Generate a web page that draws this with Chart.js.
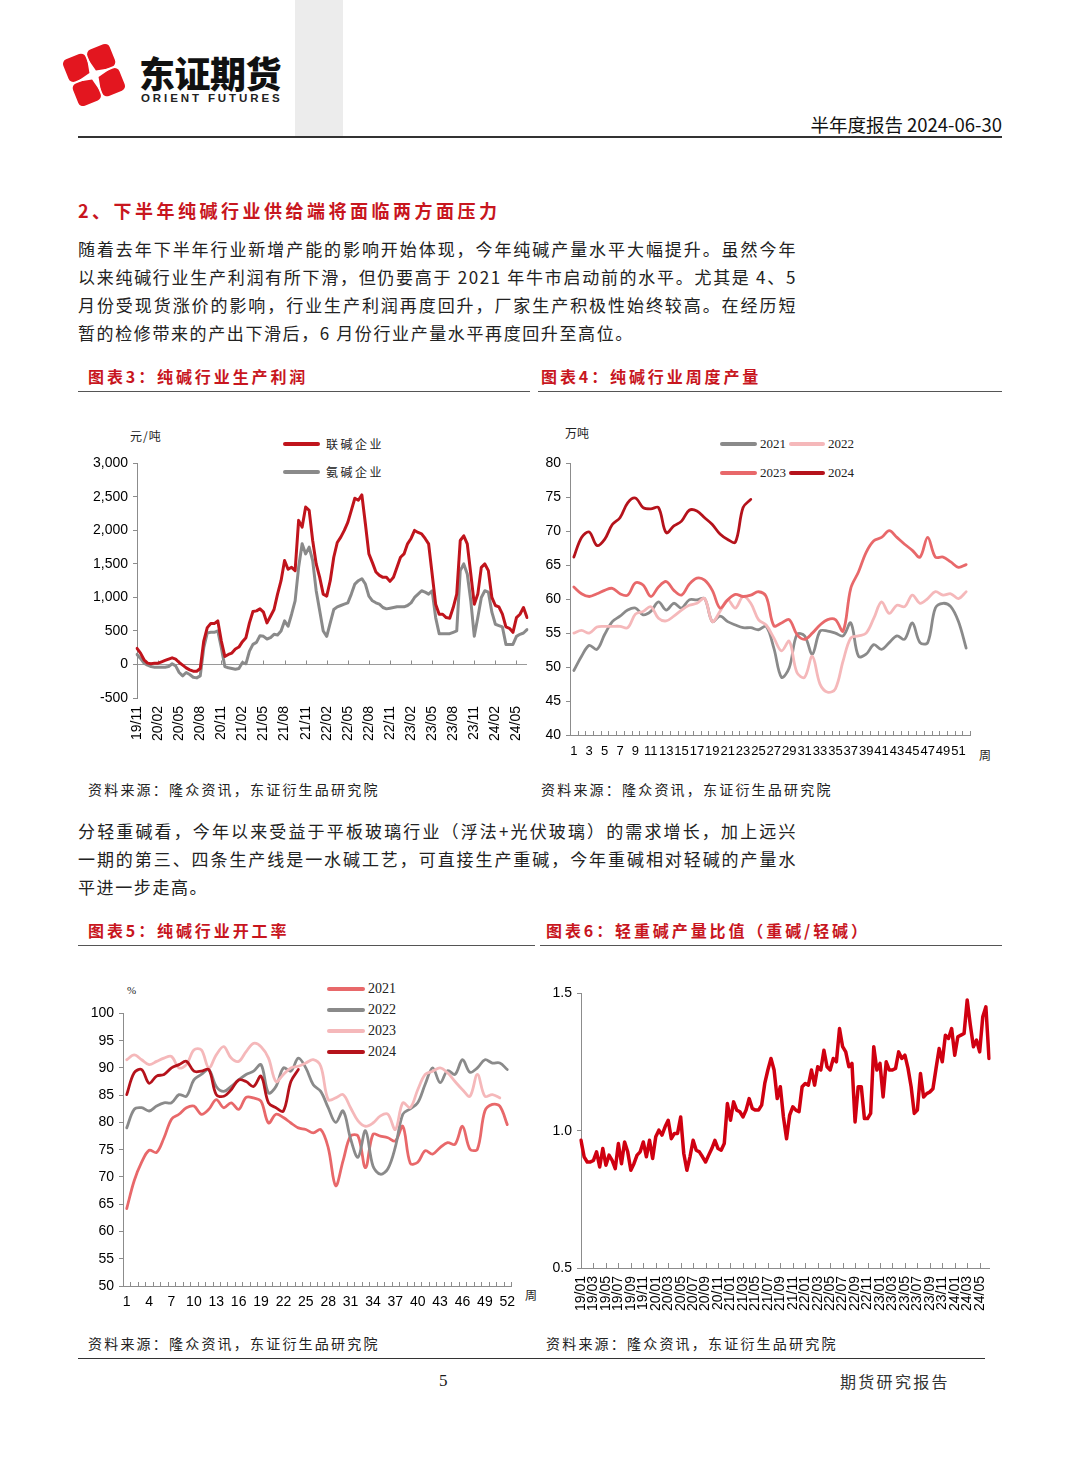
<!DOCTYPE html>
<html lang="zh">
<head>
<meta charset="UTF-8" />
<title>半年度报告 纯碱</title>
<script src="https://cdn.jsdelivr.net/npm/chart.js"></script>
<style>
  body { margin: 0; background: #fff; font-family: "Noto Sans CJK SC", sans-serif; color: #1a1a1a; }
  #page { position: relative; width: 1080px; height: 1466px; overflow: hidden; background: #fff; }
  .abs { position: absolute; white-space: nowrap; }
  .para { position: absolute; left: 78px; width: 719px; font-size: 17px; line-height: 28px; letter-spacing: 1.6px; white-space: nowrap; color: #222; }
  .full { text-align: justify; text-align-last: justify; }
  .rule { position: absolute; height: 1px; background: #555; }
  .ctitle { position: absolute; font-size: 16px; font-weight: 700; color: #c8161e; letter-spacing: 2.9px; line-height: 20px; white-space: nowrap; }
  .src { position: absolute; font-size: 14px; letter-spacing: 2.2px; line-height: 20px; color: #222; white-space: nowrap; }
  .box { position: absolute; }
  .lg { position: absolute; height: 4px; border-radius: 2px; }
  .lgt { position: absolute; line-height: 16px; white-space: nowrap; color: #222; }
  .serif { font-family: "Liberation Serif", "DejaVu Serif", serif; }
</style>
</head>
<body>
<div id="page">
  <!-- header -->
  <svg class="abs" width="72" height="78" style="left:58px;top:36px">
    <g transform="translate(36,39) rotate(-22)">
      <rect x="-25" y="-25" width="24" height="24" rx="5" fill="#e3161f"/>
      <rect x="1" y="-25" width="24" height="24" rx="5" fill="#e3161f"/>
      <rect x="-25" y="1" width="24" height="24" rx="5" fill="#e3161f"/>
      <rect x="1" y="1" width="24" height="24" rx="5" fill="#e3161f"/>
      <path d="M0,-19 L3.5,-3.5 L19,0 L3.5,3.5 L0,19 L-3.5,3.5 L-19,0 L-3.5,-3.5 Z" fill="#fff"/>
    </g>
  </svg>
  <div class="abs" style="left:139px;top:50px;font-size:36px;font-weight:900;line-height:44px;color:#111;letter-spacing:-0.5px">东证期货</div>
  <div class="abs" style="left:141px;top:91px;font-family:'Liberation Sans',Arial,sans-serif;font-size:11.5px;font-weight:700;letter-spacing:2.9px;line-height:14px;color:#222">ORIENT FUTURES</div>
  <div class="abs" style="left:295px;top:0;width:48px;height:137px;background:#ececec"></div>
  <div class="abs" style="right:78px;top:112px;font-size:18.5px;line-height:24px;color:#111">半年度报告 2024-06-30</div>
  <div class="abs" style="left:78px;top:136px;width:924px;height:2px;background:#333"></div>

  <!-- section 2 -->
  <div class="abs" style="left:78px;top:198px;font-size:18px;font-weight:700;color:#c8161e;letter-spacing:3.5px;line-height:24px">2、下半年纯碱行业供给端将面临两方面压力</div>
  <div class="para full" style="top:235px">随着去年下半年行业新增产能的影响开始体现，今年纯碱产量水平大幅提升。虽然今年</div>
  <div class="para full" style="top:263px">以来纯碱行业生产利润有所下滑，但仍要高于 2021 年牛市启动前的水平。尤其是 4、5</div>
  <div class="para full" style="top:291px">月份受现货涨价的影响，行业生产利润再度回升，厂家生产积极性始终较高。在经历短</div>
  <div class="para" style="top:319px">暂的检修带来的产出下滑后，6 月份行业产量水平再度回升至高位。</div>

  <div class="ctitle" style="left:88px;top:366px">图表3：纯碱行业生产利润</div>
  <div class="ctitle" style="left:541px;top:366px">图表4：纯碱行业周度产量</div>
  <div class="rule" style="left:78px;top:391px;width:452px"></div>
  <div class="rule" style="left:538px;top:391px;width:464px"></div>

  <!-- chart 3 -->
  <div class="lgt" style="left:130px;top:428px;font-size:12px;letter-spacing:1px">元/吨</div>
  <div class="lg" style="left:283px;top:442px;width:37px;background:#c0141c"></div>
  <div class="lgt" style="left:326px;top:436px;font-size:12px;letter-spacing:2.5px">联碱企业</div>
  <div class="lg" style="left:283px;top:470px;width:37px;background:#8a8a8a"></div>
  <div class="lgt" style="left:326px;top:464px;font-size:12px;letter-spacing:2.5px">氨碱企业</div>
  <div class="box" style="left:80px;top:450px"><canvas id="profitChart" width="460" height="305"></canvas></div>

  <!-- chart 4 -->
  <div class="lgt" style="left:565px;top:425px;font-size:12px">万吨</div>
  <div class="lg" style="left:720px;top:442px;width:37px;background:#8a8a8a"></div>
  <div class="lgt serif" style="left:760px;top:436px;font-size:13px">2021</div>
  <div class="lg" style="left:789px;top:442px;width:36px;background:#f5b8ba"></div>
  <div class="lgt serif" style="left:828px;top:436px;font-size:13px">2022</div>
  <div class="lg" style="left:720px;top:471px;width:37px;background:#e8686a"></div>
  <div class="lgt serif" style="left:760px;top:465px;font-size:13px">2023</div>
  <div class="lg" style="left:789px;top:471px;width:36px;background:#b5121b"></div>
  <div class="lgt serif" style="left:828px;top:465px;font-size:13px">2024</div>
  <div class="lgt" style="left:979px;top:747px;font-size:12px">周</div>
  <div class="box" style="left:540px;top:450px"><canvas id="outputChart" width="460" height="315"></canvas></div>

  <div class="src" style="left:88px;top:779px">资料来源：隆众资讯，东证衍生品研究院</div>
  <div class="src" style="left:541px;top:779px">资料来源：隆众资讯，东证衍生品研究院</div>

  <div class="para full" style="top:817px">分轻重碱看，今年以来受益于平板玻璃行业（浮法+光伏玻璃）的需求增长，加上远兴</div>
  <div class="para full" style="top:845px">一期的第三、四条生产线是一水碱工艺，可直接生产重碱，今年重碱相对轻碱的产量水</div>
  <div class="para" style="top:873px">平进一步走高。</div>

  <div class="ctitle" style="left:88px;top:920px">图表5：纯碱行业开工率</div>
  <div class="ctitle" style="left:546px;top:920px">图表6：轻重碱产量比值（重碱/轻碱）</div>
  <div class="rule" style="left:78px;top:945px;width:457px"></div>
  <div class="rule" style="left:540px;top:945px;width:462px"></div>

  <!-- chart 5 -->
  <div class="lgt serif" style="left:127px;top:982px;font-size:11px">%</div>
  <div class="lg" style="left:327px;top:987px;width:38px;background:#e8686a"></div>
  <div class="lgt serif" style="left:368px;top:981px;font-size:14px">2021</div>
  <div class="lg" style="left:327px;top:1008px;width:38px;background:#8a8a8a"></div>
  <div class="lgt serif" style="left:368px;top:1002px;font-size:14px">2022</div>
  <div class="lg" style="left:327px;top:1029px;width:38px;background:#f5b8ba"></div>
  <div class="lgt serif" style="left:368px;top:1023px;font-size:14px">2023</div>
  <div class="lg" style="left:327px;top:1050px;width:38px;background:#b5121b"></div>
  <div class="lgt serif" style="left:368px;top:1044px;font-size:14px">2024</div>
  <div class="lgt" style="left:525px;top:1287px;font-size:12px">周</div>
  <div class="box" style="left:80px;top:1000px"><canvas id="rateChart" width="460" height="315"></canvas></div>

  <!-- chart 6 -->
  <div class="box" style="left:540px;top:980px"><canvas id="ratioChart" width="460" height="340"></canvas></div>

  <div class="src" style="left:88px;top:1333px">资料来源：隆众资讯，东证衍生品研究院</div>
  <div class="src" style="left:546px;top:1333px">资料来源：隆众资讯，东证衍生品研究院</div>
  <div class="abs" style="left:78px;top:1358px;width:907px;height:1px;background:#333"></div>
  <div class="abs serif" style="left:439px;top:1370px;font-size:17px;line-height:22px">5</div>
  <div class="abs" style="left:840px;top:1370px;font-size:16px;line-height:22px;letter-spacing:2.3px;color:#333">期货研究报告</div>
</div>

<script>
  // chart 3: 生产利润, two points per month, 19/11 - 24/06
  const profitMonths = ['19/11','19/12',
    '20/01','20/02','20/03','20/04','20/05','20/06','20/07','20/08','20/09','20/10','20/11','20/12',
    '21/01','21/02','21/03','21/04','21/05','21/06','21/07','21/08','21/09','21/10','21/11','21/12',
    '22/01','22/02','22/03','22/04','22/05','22/06','22/07','22/08','22/09','22/10','22/11','22/12',
    '23/01','23/02','23/03','23/04','23/05','23/06','23/07','23/08','23/09','23/10','23/11','23/12',
    '24/01','24/02','24/03','24/04','24/05','24/06'];
  const lianjian = [240,170,70,20,10,20,20,40,60,80,
    100,80,30,-10,-50,-80,-100,-100,-60,350,
    550,610,610,650,350,120,150,170,230,260,
    340,400,620,790,800,830,780,620,720,820,
    1050,1250,1550,1420,1450,1400,2150,2050,2350,2300,
    1850,1500,1300,1050,1020,1250,1600,1820,1900,2000,
    2120,2300,2480,2450,2530,2100,1650,1520,1380,1330,
    1300,1300,1240,1300,1450,1600,1650,1800,1880,2000,
    1970,1950,1880,1800,1350,900,750,750,700,690,
    850,1050,1850,1920,1800,1350,900,1050,1450,1500,
    1400,1000,880,860,750,560,540,480,700,750,
    850,700];
  const anjian = [150,90,20,-10,-30,-40,-40,-40,-40,-30,
    10,-20,-120,-170,-120,-150,-190,-200,-170,250,
    470,480,480,500,250,-30,-50,-60,-70,-60,
    30,10,200,300,330,430,420,380,400,450,
    440,500,650,570,750,950,1450,1800,1650,1750,
    1550,1100,800,500,420,620,820,860,880,900,
    920,1050,1200,1250,1280,1200,1020,950,920,900,
    850,830,840,850,860,860,860,880,920,1000,
    1050,1100,1080,1050,1100,700,460,460,460,460,
    480,500,1400,1500,1350,950,420,700,1000,1100,
    1080,780,600,580,560,300,300,300,420,450,
    470,520];

  // chart 4 / 5: weeks
  const weeks = [1,2,3,4,5,6,7,8,9,10,11,12,13,14,15,16,17,18,19,20,21,22,23,24,25,26,
    27,28,29,30,31,32,33,34,35,36,37,38,39,40,41,42,43,44,45,46,47,48,49,50,51,52];

  // 周度产量 (万吨)
  const prod2021 = [49.5,51.6,53.2,52.6,54.8,56.7,57.5,58.4,58.7,57.7,
    58.2,59.6,58.4,59.4,58.7,59.9,59.9,60.1,56.7,57.5,
    56.7,56.2,55.8,55.8,55.5,56.0,52.8,48.5,49.9,54.8,
    54.6,51.9,55.3,55.3,55.0,54.6,56.5,51.6,51.9,53.3,
    52.6,53.6,54.6,54.1,56.5,53.6,53.6,58.7,59.4,58.9,
    56.7,52.8];
  const prod2022 = [55.0,55.4,55.0,55.9,56.0,56.0,56.0,55.8,57.8,58.2,
    58.9,57.2,56.8,57.5,58.4,59.1,59.4,60.1,56.7,58.2,
    59.9,58.7,60.4,59.4,57.0,56.2,54.3,52.4,53.8,49.2,
    48.5,51.6,47.5,46.3,46.8,50.9,54.3,54.6,55.0,57.2,
    59.6,57.9,59.1,58.9,60.6,59.4,60.1,61.1,60.6,60.8,
    60.1,61.1];
  const prod2023 = [61.8,60.8,60.4,60.8,61.3,61.6,60.8,60.6,62.4,62.1,
    60.4,61.8,62.6,61.3,60.6,62.2,63.1,62.8,61.3,58.7,
    59.9,60.7,60.4,60.6,61.1,60.4,56.1,56.5,57.0,54.8,
    54.1,55.0,56.2,57.0,57.0,55.3,61.6,64.0,66.9,68.6,
    69.1,70.1,69.1,68.1,67.2,66.2,69.1,66.2,66.2,65.5,
    64.7,65.1];
  const prod2024 = [66.2,69.1,69.9,67.9,68.8,71.0,72.0,74.2,74.9,73.5,
    73.3,73.5,69.8,70.8,71.5,73.1,73.0,72.0,71.0,69.6,
    68.8,68.4,73.5,74.7];

  // 开工率 (%)
  const rate2021 = [64.2,69.3,72.7,74.9,74.5,77.2,80.6,81.5,82.7,83.0,
    81.5,82.4,84.2,82.7,83.6,82.4,84.6,84.5,83.9,79.9,
    81.5,80.9,79.9,79.0,78.7,78.1,78.7,75.4,68.4,73.0,
    77.5,77.5,71.7,77.8,77.5,77.2,76.6,79.3,72.5,72.7,
    74.8,74.2,75.4,76.3,76.0,79.3,75.1,75.1,82.1,83.3,
    83.0,79.6];
  const rate2022 = [79.0,82.4,82.7,82.1,83.0,83.6,83.6,85.1,84.8,87.8,
    88.8,89.7,86.6,85.7,86.6,87.8,88.8,89.4,90.6,85.4,
    86.6,90.0,89.4,91.8,90.0,86.9,85.7,82.7,80.0,82.1,
    77.0,73.6,78.5,72.0,70.5,71.5,75.5,81.5,82.5,83.6,
    87.0,90.0,87.3,89.5,88.8,91.5,89.2,90.0,91.5,90.9,
    90.9,89.7];
  const rate2023 = [91.5,92.4,91.5,90.6,91.2,91.8,92.1,90.0,90.6,93.3,
    93.3,90.0,92.4,93.9,91.8,91.2,93.0,94.5,93.9,91.8,
    87.5,88.8,90.0,90.3,90.9,91.5,90.3,84.2,84.5,85.1,
    82.7,80.3,79.3,79.9,81.2,81.5,78.7,83.6,82.7,86.0,
    88.8,89.4,90.0,89.1,87.5,86.0,84.8,88.8,84.8,85.1,
    84.5];
  const rate2024 = [85.1,89.1,89.7,87.2,88.5,88.8,90.0,90.6,91.2,89.4,
    89.4,89.7,85.1,84.8,86.0,87.8,87.5,86.6,88.5,83.6,
    82.7,82.1,87.5,89.7];

  // chart 6: 重碱/轻碱, two points per month, 19/01 - 24/06
  const ratioMonths = [
    '19/01','19/02','19/03','19/04','19/05','19/06','19/07','19/08','19/09','19/10','19/11','19/12',
    '20/01','20/02','20/03','20/04','20/05','20/06','20/07','20/08','20/09','20/10','20/11','20/12',
    '21/01','21/02','21/03','21/04','21/05','21/06','21/07','21/08','21/09','21/10','21/11','21/12',
    '22/01','22/02','22/03','22/04','22/05','22/06','22/07','22/08','22/09','22/10','22/11','22/12',
    '23/01','23/02','23/03','23/04','23/05','23/06','23/07','23/08','23/09','23/10','23/11','23/12',
    '24/01','24/02','24/03','24/04','24/05','24/06'];
  const heavyLight = [0.965,0.905,0.886,0.886,0.892,0.923,0.868,0.935,0.874,0.911,
    0.892,0.862,0.953,0.880,0.959,0.923,0.856,0.880,0.911,0.923,
    0.959,0.905,0.965,0.899,0.978,1.002,0.984,1.014,1.038,0.971,
    0.990,0.990,1.050,0.917,0.856,0.905,0.965,0.929,0.923,0.905,
    0.886,0.911,0.935,0.965,0.935,0.929,0.953,1.099,1.038,1.105,
    1.075,1.069,1.050,1.075,1.117,1.081,1.075,1.075,1.093,1.172,
    1.221,1.263,1.221,1.117,1.160,1.050,0.971,1.057,1.087,1.075,
    1.069,1.160,1.172,1.166,1.221,1.166,1.233,1.221,1.293,1.233,
    1.221,1.263,1.251,1.372,1.306,1.287,1.233,1.245,1.032,1.160,
    1.160,1.044,1.044,1.063,1.306,1.221,1.245,1.123,1.251,1.221,
    1.221,1.227,1.287,1.263,1.275,1.227,1.160,1.063,1.075,1.208,
    1.123,1.135,1.141,1.153,1.227,1.299,1.251,1.348,1.336,1.372,
    1.275,1.342,1.348,1.354,1.476,1.385,1.306,1.330,1.287,1.415,
    1.451,1.263];

  const DARK = '#b5121b', RED = '#c0141c', MID = '#e8686a', PINK = '#f5b8ba', GRAY = '#8a8a8a';
  const AXIS = '#8c8c8c';

  Chart.defaults.font.family = "'Liberation Sans', Arial, sans-serif";
  Chart.defaults.font.size = 14;
  Chart.defaults.color = '#000';

  // small tick marks on the category axis (Excel style)
  const axisTicks = {
    id: 'axisTicks',
    beforeDatasetsDraw(chart, args, opts) {
      if (!opts || !opts.every) return;
      const xs = chart.scales.x, ys = chart.scales.y;
      const base = opts.atValue !== undefined ? ys.getPixelForValue(opts.atValue) : chart.chartArea.bottom;
      const n = chart.data.labels.length;
      const shift = opts.between ? -0.5 : 0;
      const last = opts.between ? n : n - 1;
      const ctx = chart.ctx;
      ctx.save();
      ctx.strokeStyle = AXIS;
      ctx.lineWidth = 1;
      ctx.beginPath();
      for (let i = 0; i <= last; i += opts.every) {
        const px = Math.round(xs.getPixelForValue(i + shift)) + 0.5;
        ctx.moveTo(px, base);
        ctx.lineTo(px, base + opts.length);
      }
      ctx.stroke();
      ctx.restore();
    }
  };
  Chart.register(axisTicks);

  function makeChart(id, labels, datasets, o) {
    return new Chart(document.getElementById(id), {
      type: 'line',
      data: { labels: labels, datasets: datasets },
      options: {
        responsive: false,
        animation: false,
        layout: { padding: o.padding },
        elements: {
          point: { radius: 0 },
          line: { borderWidth: o.lineWidth, tension: o.tension, borderJoinStyle: 'round', borderCapStyle: 'round' }
        },
        plugins: { legend: { display: false }, tooltip: { enabled: false }, axisTicks: o.xTicks },
        scales: {
          x: {
            offset: o.offset,
            grid: { display: false, drawTicks: false },
            border: { display: o.xBorder, color: AXIS },
            ticks: {
              autoSkip: false, minRotation: o.rot, maxRotation: o.rot, padding: o.xPad,
              font: { size: o.xFont },
              callback: (v, i) => i % o.labelEvery === 0 ? String(labels[i]) : ''
            },
            afterFit: s => { s.height = o.xHeight; s.paddingLeft = 0; s.paddingRight = 0; }
          },
          y: {
            min: o.min, max: o.max,
            ticks: { stepSize: o.step, padding: 5, callback: o.yFmt },
            grid: {
              drawOnChartArea: !!o.zeroLine,
              color: c => (c.tick && c.tick.value === 0) ? '#9a9a9a' : 'rgba(0,0,0,0)',
              tickColor: AXIS, tickLength: 4
            },
            border: { color: AXIS },
            afterFit: s => { s.width = o.yWidth; }
          }
        }
      }
    });
  }

  // chart 3
  const profitLabels = profitMonths.flatMap(m => [m, m]);
  makeChart('profitChart', profitLabels, [
    { label: '联碱企业', data: lianjian, borderColor: RED, order: 0 },
    { label: '氨碱企业', data: anjian, borderColor: GRAY, order: 1 }
  ], {
    padding: { top: 13, right: 13, left: 0, bottom: 0 },
    lineWidth: 3, tension: 0, offset: false, xBorder: false, rot: 90, xPad: 8, xFont: 14,
    labelEvery: 6, xHeight: 57, yWidth: 57, min: -500, max: 3000, step: 500, zeroLine: true,
    yFmt: v => v.toLocaleString('en-US'),
    xTicks: { every: 6, atValue: 0, length: -4, between: false }
  });

  // chart 4
  makeChart('outputChart', weeks, [
    { label: '2021', data: prod2021, borderColor: GRAY, order: 3 },
    { label: '2022', data: prod2022, borderColor: PINK, order: 2 },
    { label: '2023', data: prod2023, borderColor: MID, order: 1 },
    { label: '2024', data: prod2024, borderColor: DARK, order: 0 }
  ], {
    padding: { top: 10, right: 30, left: 0, bottom: 0 },
    lineWidth: 2.8, tension: 0.35, offset: true, xBorder: true, rot: 0, xPad: 9, xFont: 13,
    labelEvery: 2, xHeight: 30, yWidth: 30, min: 40, max: 80, step: 5,
    yFmt: v => v,
    xTicks: { every: 1, length: -4, between: true }
  });

  // chart 5
  makeChart('rateChart', weeks, [
    { label: '2021', data: rate2021, borderColor: MID, order: 3 },
    { label: '2022', data: rate2022, borderColor: GRAY, order: 2 },
    { label: '2023', data: rate2023, borderColor: PINK, order: 1 },
    { label: '2024', data: rate2024, borderColor: DARK, order: 0 }
  ], {
    padding: { top: 12, right: 29, left: 0, bottom: 0 },
    lineWidth: 2.8, tension: 0.35, offset: true, xBorder: true, rot: 0, xPad: 8, xFont: 14,
    labelEvery: 3, xHeight: 29, yWidth: 43, min: 50, max: 100, step: 5,
    yFmt: v => v,
    xTicks: { every: 1, length: -4, between: true }
  });

  // chart 6
  const ratioLabels = ratioMonths.flatMap(m => [m, m]);
  makeChart('ratioChart', ratioLabels, [
    { label: '重碱/轻碱', data: heavyLight, borderColor: '#d00010' }
  ], {
    padding: { top: 13, right: 11, left: 0, bottom: 0 },
    lineWidth: 3.5, tension: 0, offset: false, xBorder: true, rot: 90, xPad: 8, xFont: 14,
    labelEvery: 4, xHeight: 52, yWidth: 41, min: 0.5, max: 1.5, step: 0.5,
    yFmt: v => v.toFixed(1),
    xTicks: { every: 4, length: -5, between: false }
  });
</script>
</body>
</html>
